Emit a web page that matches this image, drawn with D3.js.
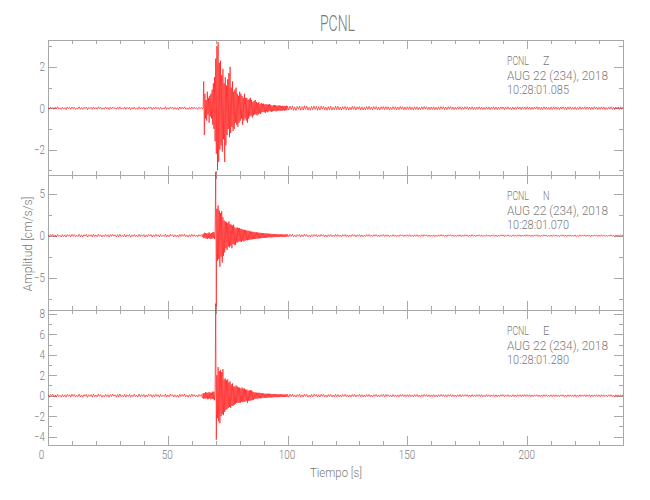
<!DOCTYPE html>
<html><head><meta charset="utf-8">
<script src="https://cdn.jsdelivr.net/npm/d3@7"></script>
<style>
body{margin:0;background:#fff}
svg text{font-family:Roboto,"Liberation Sans",sans-serif;font-weight:300;fill:#7a7a7a}
.axis path,.axis line{stroke:#a8a8a8;stroke-width:1;shape-rendering:crispEdges}
</style></head><body>
<svg id="chart" width="650" height="500"></svg>
<script>
// ---- data (amplitudes in cm/s/s) ----
// pre-event: t = 0..64 s, step 0.5 s
const zPre=[0.03,-0.05,0.06,-0.02,0.04,-0.06,0.05,-0.03,0.07,-0.04,
0.02,-0.06,0.05,-0.05,0.03,-0.07,0.06,-0.02,0.04,-0.05,
0.06,-0.03,0.05,-0.06,0.02,-0.04,0.07,-0.05,0.03,-0.06,
0.05,-0.02,0.06,-0.07,0.04,-0.03,0.05,-0.06,0.06,-0.04,
0.03,-0.05,0.07,-0.03,0.05,-0.06,0.02,-0.05,0.06,-0.03,
0.04,-0.07,0.05,-0.04,0.06,-0.02,0.03,-0.06,0.05,-0.05,
0.07,-0.04,0.02,-0.05,0.06,-0.06,0.04,-0.03,0.05,-0.07,
0.03,-0.04,0.06,-0.05,0.02,-0.06,0.07,-0.04,0.04,-0.03,
0.05,-0.06,0.03,-0.05,0.06,-0.02,0.05,-0.07,0.04,-0.04,
0.06,-0.03,0.04,-0.06,0.05,-0.05,0.02,-0.04,0.07,-0.06,
0.03,-0.05,0.06,-0.02,0.05,-0.06,0.04,-0.05,0.03,-0.07,
0.06,-0.04,0.05,-0.03,0.07,-0.05,0.02,-0.06,0.04,-0.05,
0.06,-0.03,0.05,-0.04,0.03,-0.06,0.05,-0.02,0.04];
// event: t = 64.5..100 s, step 0.25 s
const zEvent=[-0.05,0.04,
1.30,-1.30,0.70,-0.50, 0.40,-0.60,0.80,-0.30, 0.50,-0.70,0.60,-0.40, 0.70,-0.50,0.90,-0.80,
1.20,-1.00,1.50,-1.60, 2.40,-2.20,3.00,-3.00, 3.20,-2.60,2.20,-2.00, 2.30,-1.80,1.60,-2.10,
1.90,-1.50,1.20,-2.60, 1.50,-1.80,1.10,-1.30, 1.40,-1.00,1.70,-1.40, 2.00,-1.20,1.00,-0.90,
1.30,-1.10,0.80,-1.00, 0.90,-0.70,1.00,-0.80, 0.70,-0.90,0.60,-0.70, 0.80,-0.60,0.70,-0.50,
0.60,-0.80,0.50,-0.60, 0.70,-0.50,0.50,-0.60, 0.50,-0.70,0.40,-0.50, 0.45,-0.40,0.50,-0.35,
0.40,-0.45,0.30,-0.35, 0.35,-0.30,0.40,-0.30, 0.30,-0.35,0.25,-0.30, 0.30,-0.25,0.20,-0.28,
0.25,-0.20,0.22,-0.18, 0.22,-0.20,0.18,-0.22, 0.20,-0.16,0.18,-0.20, 0.18,-0.15,0.20,-0.14,
0.16,-0.18,0.12,-0.15, 0.15,-0.13,0.16,-0.12, 0.14,-0.15,0.12,-0.13, 0.13,-0.11,0.14,-0.12,
0.12,-0.13,0.10,-0.12, 0.12,-0.10,0.11,-0.12, 0.11,-0.10,0.12,-0.09,
0.10];
// post-event: t = 100.5..240 s, step 0.5 s
const zPost=[-0.09,0.10,-0.07,0.11,-0.10,0.06,-0.11,0.09,-0.05,0.10,
-0.10,0.08,-0.09,0.11,-0.06,0.10,-0.09,0.05,-0.10,0.09,
-0.08,0.10,-0.06,0.09,-0.10,0.07,-0.09,0.10,-0.05,0.09,
-0.09,0.06,-0.10,0.08,-0.07,0.09,-0.09,0.05,-0.08,0.10,
-0.07,0.09,-0.08,0.06,-0.09,0.08,-0.05,0.09,-0.08,0.07,
-0.09,0.05,-0.08,0.09,-0.06,0.08,-0.09,0.07,-0.04,0.08,
-0.08,0.07,-0.09,0.05,-0.08,0.08,-0.06,0.09,-0.07,0.06,
-0.08,0.08,-0.05,0.08,-0.07,0.06,-0.08,0.07,-0.05,0.08,
-0.07,0.08,-0.06,0.07,-0.08,0.05,-0.07,0.08,-0.06,0.07,
-0.08,0.06,-0.07,0.08,-0.05,0.07,-0.08,0.06,-0.07,0.07,
-0.06,0.08,-0.07,0.05,-0.08,0.07,-0.06,0.07,-0.08,0.05,
-0.07,0.07,-0.06,0.08,-0.05,0.07,-0.07,0.06,-0.08,0.06,
-0.06,0.07,-0.08,0.05,-0.07,0.07,-0.06,0.08,-0.05,0.07,
-0.07,0.06,-0.07,0.07,-0.05,0.08,-0.06,0.06,-0.07,0.05,
-0.06,0.07,-0.05,0.07,-0.07,0.06,-0.06,0.07,-0.04,0.07,
-0.07,0.05,-0.06,0.07,-0.06,0.05,-0.07,0.06,-0.05,0.07,
-0.06,0.06,-0.07,0.04,-0.06,0.07,-0.05,0.06,-0.07,0.05,
-0.05,0.07,-0.06,0.06,-0.07,0.05,-0.06,0.07,-0.04,0.06,
-0.07,0.06,-0.05,0.07,-0.06,0.04,-0.07,0.06,-0.06,0.05,
-0.06,0.07,-0.04,0.06,-0.07,0.06,-0.05,0.06,-0.06,0.07,
-0.05,0.06,-0.07,0.05,-0.06,0.06,-0.04,0.07,-0.06,0.05,
-0.07,0.05,-0.06,0.07,-0.05,0.06,-0.06,0.04,-0.07,0.06,
-0.06,0.07,-0.05,0.06,-0.06,0.05,-0.07,0.06,-0.04,0.07,
-0.06,0.05,-0.07,0.06,-0.05,0.07,-0.06,0.05,-0.06,0.06,
-0.07,0.04,-0.06,0.07,-0.06,0.05,-0.05,0.07,-0.06,0.06,
-0.05,0.06,-0.07,0.05,-0.06,0.07,-0.04,0.06,-0.07,0.05,
-0.06,0.07,-0.05,0.06,-0.07,0.04,-0.06,0.06,-0.05,0.07,
-0.06,0.05,-0.07,0.06,-0.04,0.06,-0.06,0.07,-0.05,0.06];

const nPre=[0.10,-0.15,0.13,-0.06,0.16,-0.12,0.08,-0.14,0.15,-0.09,
0.06,-0.16,0.12,-0.13,0.09,-0.17,0.14,-0.07,0.11,-0.15,
0.16,-0.08,0.13,-0.15,0.05,-0.11,0.17,-0.13,0.09,-0.16,
0.12,-0.06,0.15,-0.17,0.10,-0.09,0.13,-0.15,0.16,-0.10,
0.08,-0.13,0.17,-0.08,0.12,-0.16,0.06,-0.12,0.15,-0.09,
0.11,-0.17,0.13,-0.10,0.16,-0.06,0.09,-0.15,0.12,-0.13,
0.17,-0.11,0.06,-0.13,0.15,-0.16,0.10,-0.08,0.13,-0.17,
0.08,-0.11,0.16,-0.12,0.06,-0.15,0.17,-0.10,0.11,-0.08,
0.13,-0.16,0.09,-0.13,0.15,-0.06,0.12,-0.17,0.10,-0.11,
0.15,-0.08,0.11,-0.16,0.13,-0.12,0.06,-0.10,0.17,-0.15,
0.09,-0.13,0.16,-0.06,0.12,-0.15,0.10,-0.12,0.08,-0.17,
0.15,-0.10,0.13,-0.08,0.17,-0.13,0.06,-0.16,0.11,-0.12,
0.16,-0.09,0.12,-0.11,0.08,-0.15,0.13,-0.06,0.12];
const nEvent=[-0.15,0.20,
-0.30,0.35,-0.25,0.30, -0.35,0.25,-0.40,0.30, -0.30,0.40,-0.35,0.25, -0.40,0.30,-0.35,0.40,
-0.30,0.45,-0.40,0.50, 7.60,-8.40,3.20,-3.00, 3.60,-2.80,3.00,-3.70, 2.70,-2.50,2.90,-3.20,
2.20,-2.40,1.80,-2.00, 1.70,-1.50,1.60,-1.70, 1.50,-1.30,1.70,-1.40, 1.40,-1.20,1.30,-1.50,
1.20,-1.00,1.30,-1.10, 1.00,-1.10,0.90,-0.80, 1.00,-0.80,0.90,-0.70, 0.90,-0.70,0.80,-0.75,
0.80,-0.60,0.70,-0.70, 0.70,-0.60,0.65,-0.55, 0.60,-0.55,0.60,-0.50, 0.55,-0.50,0.50,-0.45,
0.50,-0.45,0.45,-0.40, 0.45,-0.40,0.40,-0.38, 0.40,-0.35,0.38,-0.35, 0.35,-0.32,0.35,-0.30,
0.32,-0.30,0.30,-0.28, 0.30,-0.28,0.27,-0.25, 0.28,-0.24,0.25,-0.22, 0.24,-0.22,0.22,-0.20,
0.22,-0.20,0.20,-0.18, 0.20,-0.19,0.18,-0.17, 0.18,-0.17,0.18,-0.16, 0.17,-0.16,0.16,-0.15,
0.16,-0.15,0.15,-0.15, 0.15,-0.14,0.15,-0.14, 0.14,-0.14,0.15,-0.13,
0.14];
const nPost=[-0.14,0.15,-0.09,0.16,-0.13,0.07,-0.15,0.12,-0.06,0.14,
-0.15,0.10,-0.12,0.16,-0.08,0.14,-0.13,0.06,-0.15,0.11,
-0.10,0.14,-0.07,0.13,-0.15,0.09,-0.12,0.15,-0.06,0.12,
-0.13,0.08,-0.15,0.11,-0.09,0.14,-0.12,0.06,-0.11,0.15,
-0.09,0.13,-0.11,0.07,-0.14,0.12,-0.06,0.13,-0.12,0.10,
-0.14,0.06,-0.11,0.13,-0.08,0.12,-0.14,0.09,-0.05,0.12,
-0.12,0.09,-0.13,0.06,-0.11,0.12,-0.08,0.14,-0.10,0.07,
-0.11,0.12,-0.06,0.11,-0.10,0.08,-0.12,0.10,-0.06,0.13,
-0.10,0.11,-0.08,0.10,-0.12,0.06,-0.10,0.12,-0.08,0.09,
-0.12,0.07,-0.10,0.12,-0.06,0.10,-0.11,0.08,-0.09,0.11,
-0.08,0.12,-0.10,0.06,-0.12,0.10,-0.08,0.11,-0.12,0.06,
-0.10,0.11,-0.08,0.12,-0.06,0.10,-0.11,0.08,-0.12,0.07,
-0.08,0.10,-0.12,0.06,-0.10,0.11,-0.08,0.12,-0.06,0.10,
-0.11,0.08,-0.10,0.11,-0.06,0.12,-0.08,0.09,-0.11,0.06,
-0.09,0.11,-0.07,0.10,-0.12,0.08,-0.09,0.11,-0.05,0.10,
-0.11,0.06,-0.09,0.12,-0.08,0.07,-0.11,0.09,-0.06,0.11,
-0.08,0.09,-0.11,0.05,-0.09,0.12,-0.07,0.08,-0.11,0.07,
-0.06,0.11,-0.09,0.08,-0.12,0.07,-0.08,0.11,-0.05,0.09,
-0.11,0.08,-0.06,0.11,-0.09,0.05,-0.12,0.09,-0.08,0.07,
-0.09,0.11,-0.05,0.09,-0.11,0.08,-0.07,0.10,-0.08,0.11,
-0.06,0.09,-0.11,0.07,-0.09,0.10,-0.05,0.11,-0.09,0.06,
-0.11,0.07,-0.08,0.11,-0.06,0.09,-0.10,0.05,-0.11,0.08,
-0.08,0.11,-0.07,0.09,-0.10,0.06,-0.11,0.08,-0.05,0.11,
-0.09,0.06,-0.11,0.08,-0.07,0.10,-0.09,0.07,-0.08,0.09,
-0.11,0.05,-0.09,0.11,-0.08,0.07,-0.06,0.11,-0.09,0.08,
-0.06,0.09,-0.11,0.07,-0.08,0.10,-0.05,0.09,-0.11,0.07,
-0.09,0.11,-0.06,0.08,-0.10,0.05,-0.09,0.08,-0.07,0.11,
-0.08,0.06,-0.11,0.09,-0.05,0.08,-0.09,0.11,-0.07,0.08];

const ePre=[0.09,-0.14,0.12,-0.05,0.15,-0.11,0.07,-0.13,0.14,-0.08,
0.05,-0.15,0.11,-0.12,0.08,-0.16,0.13,-0.06,0.10,-0.14,
0.15,-0.07,0.12,-0.14,0.05,-0.10,0.16,-0.12,0.08,-0.15,
0.11,-0.06,0.14,-0.16,0.09,-0.08,0.12,-0.14,0.15,-0.09,
0.07,-0.12,0.16,-0.07,0.11,-0.15,0.05,-0.11,0.14,-0.08,
0.10,-0.16,0.12,-0.09,0.15,-0.05,0.08,-0.14,0.11,-0.12,
0.16,-0.10,0.05,-0.12,0.14,-0.15,0.09,-0.07,0.12,-0.16,
0.07,-0.10,0.15,-0.11,0.05,-0.14,0.16,-0.09,0.10,-0.07,
0.12,-0.15,0.08,-0.12,0.14,-0.05,0.11,-0.16,0.09,-0.10,
0.14,-0.07,0.10,-0.15,0.12,-0.11,0.05,-0.09,0.16,-0.14,
0.08,-0.12,0.15,-0.05,0.11,-0.14,0.09,-0.11,0.07,-0.16,
0.14,-0.09,0.12,-0.07,0.16,-0.12,0.05,-0.15,0.10,-0.11,
0.15,-0.08,0.11,-0.10,0.07,-0.14,0.12,-0.05,0.11];
const eEvent=[-0.20,0.25,
-0.30,0.25,-0.30,0.35, -0.25,0.30,-0.35,0.30, -0.30,0.35,-0.25,0.30, -0.35,0.30,-0.30,0.40,
-0.35,0.40,-0.45,0.50, 9.00,-4.30,2.00,-2.20, 2.80,-2.50,2.40,-2.70, 2.50,-2.00,2.30,-1.80,
2.60,-1.90,1.60,-1.60, 1.70,-1.40,1.50,-1.30, 1.60,-1.20,1.30,-1.10, 1.40,-1.20,1.10,-1.00,
1.20,-1.00,0.90,-0.90, 0.90,-0.80,1.00,-0.70, 0.90,-0.70,0.80,-0.70, 0.80,-0.70,0.70,-0.60,
0.80,-0.60,0.70,-0.60, 0.70,-0.60,0.60,-0.50, 0.60,-0.70,0.50,-0.50, 0.50,-0.50,0.55,-0.45,
0.50,-0.45,0.40,-0.40, 0.35,-0.30,0.32,-0.30, 0.30,-0.30,0.28,-0.27, 0.30,-0.25,0.27,-0.25,
0.25,-0.25,0.24,-0.22, 0.22,-0.22,0.20,-0.20, 0.20,-0.20,0.20,-0.19, 0.20,-0.18,0.19,-0.17,
0.18,-0.18,0.17,-0.16, 0.16,-0.16,0.16,-0.15, 0.15,-0.15,0.15,-0.14, 0.15,-0.14,0.14,-0.14,
0.14,-0.13,0.14,-0.13, 0.13,-0.13,0.13,-0.12, 0.12,-0.12,0.13,-0.12,
0.12];
const ePost=[-0.15,0.14,-0.10,0.16,-0.12,0.08,-0.15,0.11,-0.07,0.15,
-0.14,0.09,-0.13,0.15,-0.07,0.13,-0.14,0.07,-0.14,0.12,
-0.11,0.15,-0.06,0.12,-0.14,0.10,-0.13,0.14,-0.07,0.13,
-0.12,0.07,-0.14,0.12,-0.08,0.13,-0.13,0.07,-0.12,0.14,
-0.10,0.12,-0.12,0.08,-0.13,0.11,-0.07,0.14,-0.11,0.09,
-0.13,0.07,-0.12,0.12,-0.09,0.13,-0.13,0.08,-0.06,0.13,
-0.11,0.10,-0.12,0.07,-0.12,0.11,-0.09,0.13,-0.11,0.06,
-0.12,0.11,-0.07,0.12,-0.11,0.07,-0.11,0.11,-0.07,0.12,
-0.11,0.12,-0.07,0.11,-0.11,0.07,-0.11,0.11,-0.09,0.08,
-0.11,0.08,-0.11,0.11,-0.07,0.11,-0.10,0.09,-0.10,0.10,
-0.09,0.11,-0.09,0.07,-0.11,0.11,-0.07,0.12,-0.11,0.07,
-0.11,0.10,-0.09,0.11,-0.07,0.11,-0.10,0.09,-0.11,0.08,
-0.09,0.11,-0.11,0.07,-0.11,0.10,-0.09,0.11,-0.07,0.11,
-0.10,0.09,-0.11,0.10,-0.07,0.11,-0.09,0.10,-0.10,0.07,
-0.10,0.10,-0.08,0.11,-0.11,0.09,-0.08,0.10,-0.06,0.11,
-0.10,0.07,-0.10,0.11,-0.09,0.08,-0.10,0.10,-0.07,0.10,
-0.09,0.10,-0.10,0.06,-0.10,0.11,-0.08,0.09,-0.10,0.08,
-0.07,0.10,-0.10,0.09,-0.11,0.08,-0.09,0.10,-0.06,0.10,
-0.10,0.09,-0.07,0.10,-0.10,0.06,-0.11,0.10,-0.09,0.08,
-0.10,0.10,-0.06,0.10,-0.10,0.09,-0.08,0.11,-0.09,0.10,
-0.07,0.10,-0.10,0.08,-0.10,0.09,-0.06,0.10,-0.10,0.07,
-0.10,0.08,-0.09,0.10,-0.07,0.10,-0.09,0.06,-0.10,0.09,
-0.09,0.10,-0.08,0.10,-0.09,0.07,-0.10,0.09,-0.06,0.10,
-0.10,0.07,-0.10,0.09,-0.08,0.09,-0.10,0.08,-0.09,0.10,
-0.10,0.06,-0.10,0.10,-0.09,0.08,-0.07,0.10,-0.10,0.09,
-0.07,0.10,-0.10,0.08,-0.09,0.09,-0.06,0.10,-0.10,0.08,
-0.10,0.10,-0.07,0.09,-0.09,0.06,-0.10,0.09,-0.08,0.10,
-0.09,0.07,-0.10,0.10,-0.06,0.09,-0.10,0.10,-0.08,0.09];

// segment timing (s)
const preStart=0, preStep=0.5;
const eventStart=64.5, eventStep=0.25;
const postStart=100.5, postStep=0.5;

// axes / labels
const xDomain=[0,240];
const xMajor=[0,50,100,150,200];
const xMinor=[10,20,30,40,60,70,80,90,110,120,130,140,160,170,180,190,210,220,230];
const channelCodes=["Z","N","E"];
const stationName="PCNL";
const dateLabel="AUG 22 (234), 2018";
const startTimes=["10:28:01.085","10:28:01.070","10:28:01.280"];
const yDomains=[[-3.23,3.3],[-8.85,7.22],[-4.82,8.38]];
const yMajors=[[-2,0,2],[-5,0,5],[-4,-2,0,2,4,6,8]];
const yMinors=[[-3,-1,1,3],[-7.5,-2.5,2.5],[-3,-1,1,3,5,7]];
const titleText="PCNL";
const xTitle="Tiempo [s]";
const yTitle="Amplitud [cm/s/s]";

function buildSeries(pre,ev,post){
  return pre.map((v,i)=>({t:preStart+i*preStep,v}))
    .concat(ev.map((v,i)=>({t:eventStart+i*eventStep,v})))
    .concat(post.map((v,i)=>({t:postStart+i*postStep,v})));
}
const series=[buildSeries(zPre,zEvent,zPost),buildSeries(nPre,nEvent,nPost),buildSeries(ePre,eEvent,ePost)];

// ---- layout ----
const svg=d3.select("#chart");
const L=48,R=623,T=40,PH=135;
const x=d3.scaleLinear().domain(xDomain).range([L,R]);
const fmt=d3.format("d");
const squeeze=(sel)=>sel.attr("textLength",function(){return this.textContent.length*5.5;}).attr("lengthAdjust","spacingAndGlyphs");

svg.append("text").attr("x",(L+R)/2+2).attr("y",31).attr("text-anchor","middle")
  .attr("font-size",22).attr("textLength",35).attr("lengthAdjust","spacingAndGlyphs").text(titleText);

const ys=[];
for(let p=0;p<3;p++){
  const top=T+p*PH, bot=top+PH;
  const y=d3.scaleLinear().domain(yDomains[p]).range([bot,top]);
  ys.push(y);
  const g=svg.append("g");
  const last=p===2;
  g.append("g").attr("class","axis").attr("transform",`translate(0,${bot})`)
    .call(d3.axisBottom(x).tickValues(xMajor).tickSizeInner(-9).tickSizeOuter(0).tickPadding(5)
      .tickFormat(last?fmt:()=>""))
    .call(a=>a.selectAll("text").attr("font-size",12).attr("dy","0.75em").attr("dx",d=>d===0?-7:-1).call(squeeze));
  g.append("g").attr("class","axis").attr("transform",`translate(0,${bot})`)
    .call(d3.axisBottom(x).tickValues(xMinor).tickSizeInner(-4).tickSizeOuter(0).tickFormat(()=>""));
  g.append("g").attr("class","axis").attr("transform",`translate(0,${top})`)
    .call(d3.axisTop(x).tickValues(xMajor).tickSizeInner(-9).tickSizeOuter(0).tickFormat(()=>""));
  g.append("g").attr("class","axis").attr("transform",`translate(0,${top})`)
    .call(d3.axisTop(x).tickValues(xMinor).tickSizeInner(-4).tickSizeOuter(0).tickFormat(()=>""));
  g.append("g").attr("class","axis").attr("transform",`translate(${L},0)`)
    .call(d3.axisLeft(y).tickValues(yMajors[p]).tickSizeInner(-9).tickSizeOuter(0).tickPadding(3).tickFormat(fmt))
    .call(a=>a.selectAll("text").attr("font-size",12).call(squeeze));
  g.append("g").attr("class","axis").attr("transform",`translate(${L},0)`)
    .call(d3.axisLeft(y).tickValues(yMinors[p]).tickSizeInner(-4).tickSizeOuter(0).tickFormat(()=>""));
  g.append("g").attr("class","axis").attr("transform",`translate(${R},0)`)
    .call(d3.axisRight(y).tickValues(yMajors[p]).tickSizeInner(-9).tickSizeOuter(0).tickFormat(()=>""));
  g.append("g").attr("class","axis").attr("transform",`translate(${R},0)`)
    .call(d3.axisRight(y).tickValues(yMinors[p]).tickSizeInner(-4).tickSizeOuter(0).tickFormat(()=>""));
  const ax=507;
  g.append("text").attr("x",ax).attr("y",top+25).attr("font-size",12.5)
    .attr("textLength",22).attr("lengthAdjust","spacingAndGlyphs").text(stationName);
  g.append("text").attr("x",543).attr("y",top+25).attr("font-size",12.5)
    .attr("textLength",6.5).attr("lengthAdjust","spacingAndGlyphs").text(channelCodes[p]);
  g.append("text").attr("x",ax).attr("y",top+39.5).attr("font-size",12.5)
    .attr("textLength",101).attr("lengthAdjust","spacingAndGlyphs").text(dateLabel);
  g.append("text").attr("x",ax).attr("y",top+54).attr("font-size",12.5)
    .attr("textLength",62).attr("lengthAdjust","spacingAndGlyphs").text(startTimes[p]);
}
svg.selectAll(".axis text").attr("fill","#7a7a7a").style("font-family","Roboto,'Liberation Sans',sans-serif").style("font-weight",300);

series.forEach((s,p)=>{
  const line=d3.line().x(d=>x(d.t)).y(d=>ys[p](d.v));
  svg.append("path").datum(s).attr("d",line).attr("fill","none")
    .attr("stroke","#ff0000").attr("stroke-width",0.6).attr("stroke-linejoin","miter");
});

svg.append("text").attr("x",336).attr("y",477).attr("text-anchor","middle").attr("font-size",12.5)
  .attr("textLength",52).attr("lengthAdjust","spacingAndGlyphs").text(xTitle);
svg.append("text").attr("transform","translate(32,244) rotate(-90)").attr("text-anchor","middle").attr("font-size",12.5)
  .attr("textLength",95).attr("lengthAdjust","spacingAndGlyphs").text(yTitle);
</script></body></html>
